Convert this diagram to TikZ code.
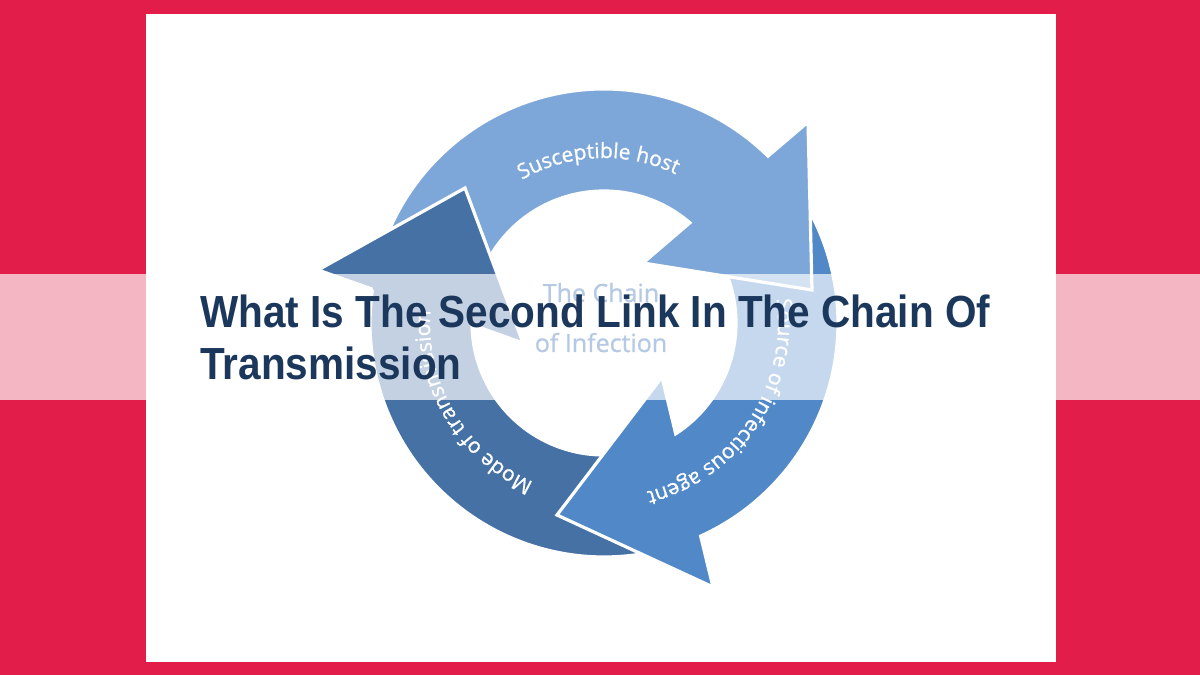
\documentclass[tikz,border=0pt]{standalone}
\usepackage{fontspec}
\setmainfont{Open Sans}
\newfontfamily\ringfont[FakeBold=0.9]{Open Sans}
\newfontfamily\titlefont[FakeStretch=0.9]{Liberation Sans}
\usetikzlibrary{decorations.text}
\definecolor{bgred}{RGB}{226,29,74}
\definecolor{titleblue}{RGB}{28,55,92}
\definecolor{hostblue}{RGB}{126,167,217}
\definecolor{sourceblue}{RGB}{80,136,200}
\definecolor{modeblue}{RGB}{69,113,165}
\definecolor{chainblue}{RGB}{25,90,175}

\begin{document}
\begin{tikzpicture}[x=0.5pt,y=0.5pt,
    ringarrow/.style={draw=white,line width=1.6pt,line join=miter},
    ringlabel/.style={decorate,decoration={text along path,text align=center,
        text={|\ringfont\fontsize{10.5pt}{12pt}\selectfont\color{white}|#1}}},
    titleline/.style={anchor=base west,text=titleblue,inner sep=0pt,
        font=\titlefont\bfseries\fontsize{22.5pt}{26pt}\selectfont},
    chainline/.style={anchor=base,text=chainblue,inner sep=0pt,
        font=\ringfont\fontsize{12.5pt}{15pt}\selectfont}]
  \fill[bgred] (0,0) rectangle (1200,675);
  \fill[white] (146,13) rectangle (1056,661);
  \coordinate (c) at (604,352);
  \path[ringarrow,fill=modeblue] ([shift={(c)}]285:234)
    arc[start angle=285,end angle=171.7,radius=234]
    -- (318,405) -- (465,487) -- (523,332) -- ([shift={(c)}]180.8:132)
    arc[start angle=180.8,end angle=285,radius=132] -- cycle;
  \path[ringarrow,fill=sourceblue] ([shift={(c)}]35:234)
    arc[start angle=35,end angle=-65.6,radius=234]
    -- (713,88) -- (557,160) -- (662,298) -- ([shift={(c)}]-57.1:132)
    arc[start angle=-57.1,end angle=35,radius=132] -- cycle;
  \path[ringarrow,fill=hostblue] ([shift={(c)}]165:234)
    arc[start angle=165,end angle=45.5,radius=234]
    -- (808,553) -- (812,385) -- (643,412) -- ([shift={(c)}]49.4:132)
    arc[start angle=49.4,end angle=165,radius=132] -- cycle;
  \fill[modeblue] ([shift={(c)}]171.7:234) -- (318,405) -- (465,487)
    -- (523,332) -- ([shift={(c)}]180.8:132) -- cycle;
  \draw[ringarrow] ([shift={(c)}]171.7:234) -- (318,405) -- (465,487)
    -- (523,332) -- ([shift={(c)}]180.8:132);
  \path[ringlabel={Susceptible host}] ([shift={(c)}]126:165)
    arc[start angle=126,end angle=58,radius=165];
  \path[ringlabel={Source of infectious agent}] ([shift={(c)}]12:174)
    arc[start angle=12,end angle=-80,radius=174];
  \path[ringlabel={Mode of transmission}] ([shift={(c)}]245:174)
    arc[start angle=245,end angle=177,radius=174];
  \node[chainline] (chaintop) at (601,373) {The Chain};
  \node[chainline] (chainbottom) at (601,323) {of Infection};
  \fill[white,opacity=0.68] (0,275) rectangle (1200,401);
  \node[titleline] (titletop) at (200,347) {What Is The Second Link In The Chain Of};
  \node[titleline] (titlebottom) at (200,295) {Transmission};
\end{tikzpicture}
\end{document}
